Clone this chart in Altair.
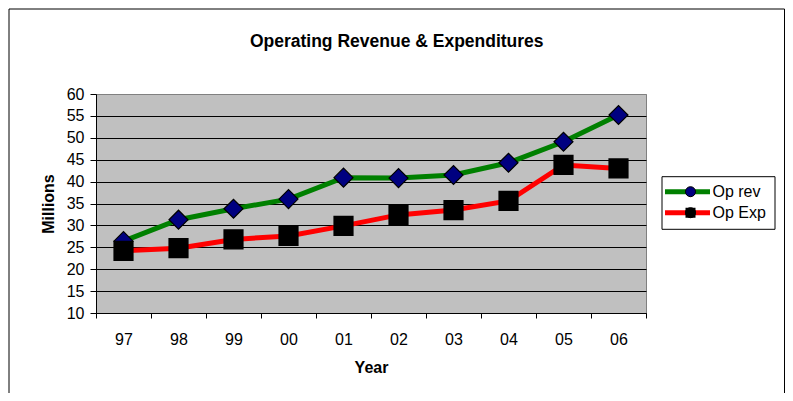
import altair as alt
import pandas as pd

years = ["97", "98", "99", "00", "01", "02", "03", "04", "05", "06"]
op_rev = [26.4, 31.3, 33.8, 36.0, 40.9, 40.8, 41.5, 44.3, 49.1, 55.2]
op_exp = [24.2, 24.8, 26.8, 27.6, 29.9, 32.4, 33.5, 35.6, 43.8, 43.0]
series_names = ["Op rev", "Op Exp"]
line_colors = ["#008000", "#FF0000"]
marker_fills = ["#000080", "#000000"]
marker_shapes = ["diamond", "square"]
y_ticks = [10, 15, 20, 25, 30, 35, 40, 45, 50, 55, 60]

rows = []
for name, vals in zip(series_names, [op_rev, op_exp]):
    for yr, v in zip(years, vals):
        rows.append({"Year": yr, "Value": v, "Series": name})
df = pd.DataFrame(rows)

FONT = "Liberation Sans"

x = alt.X(
    "Year:N",
    sort=years,
    scale=alt.Scale(type="band", paddingInner=0, paddingOuter=0),
    axis=alt.Axis(
        title="Year", labelAngle=0, tickBand="extent", tickSize=5, labelPadding=13,
        titlePadding=12, grid=False, domainColor="black", tickColor="black",
    ),
)
y = alt.Y(
    "Value:Q",
    scale=alt.Scale(domain=[10, 60], nice=False, zero=False),
    axis=alt.Axis(
        title="Millions", values=y_ticks, tickSize=6, labelPadding=6, titlePadding=10,
        grid=True,
        gridColor={"condition": {"test": "datum.value === 60", "value": "#808080"}, "value": "#000000"},
        domainColor="black", tickColor="black",
    ),
)

base = alt.Chart(df)

lines = base.mark_line(strokeWidth=5).encode(
    x=x,
    y=y,
    color=alt.Color(
        "Series:N",
        scale=alt.Scale(domain=series_names, range=line_colors),
        legend=alt.Legend(
            orient="none", legendX=566.5, legendY=89.7, title=None,
            symbolType="stroke", symbolSize=2025, symbolStrokeWidth=5,
            clipHeight=16, rowPadding=5, labelFontSize=16, labelOffset=0,
            labelColor="black", labelFont=FONT, padding=0, zindex=0,
        ),
    ),
)

pt_legend = alt.Legend(
    orient="none", legendX=586.5, legendY=89.7, title=None,
    symbolSize=100, symbolStrokeColor="black", symbolStrokeWidth=1,
    clipHeight=16, rowPadding=5, labelFontSize=16, labelExpr="''",
    labelFont=FONT, padding=0, zindex=1,
)

points = base.mark_point(filled=True, size=360, stroke="black", strokeWidth=1.2, opacity=1).encode(
    x=x,
    y=y,
    shape=alt.Shape("Series:N", sort=series_names, scale=alt.Scale(range=marker_shapes), legend=pt_legend),
    fill=alt.Fill("Series:N", sort=series_names, scale=alt.Scale(range=marker_fills), legend=pt_legend),
)


def vrule(xv, y1, y2):
    return alt.Chart(alt.Data(values=[{"k": 1}])).mark_rule(color="black", strokeWidth=1).encode(
        x=alt.value(xv), y=alt.value(y1), y2=alt.value(y2)
    )


def hrule(x1, x2, yv):
    return alt.Chart(alt.Data(values=[{"k": 1}])).mark_rule(color="black", strokeWidth=1).encode(
        x=alt.value(x1), x2=alt.value(x2), y=alt.value(yv)
    )


decor = [
    # outer chart border
    vrule(-87, -85, 400), hrule(-87, 688.5, -85), vrule(688.5, -85, 400),
    # legend box
    vrule(566, 82.7, 135.3), vrule(679, 82.7, 135.3), hrule(566, 679, 82.7), hrule(566, 679, 135.3),
]

chart = alt.layer(*decor, lines, points).properties(
    width=550,
    height=219,
    background="white",
    autosize=alt.AutoSizeParams(type="none"),
    padding={"left": 88, "top": 86, "right": 139, "bottom": 80},
    title=alt.Title(
        "Operating Revenue & Expenditures", fontSize=17.5, fontWeight="bold", font=FONT,
        anchor="middle", frame="bounds", baseline="alphabetic", offset=-55.5, color="black",
    ),
).configure_view(
    fill="#C0C0C0", stroke="#808080", strokeWidth=1
).configure_axis(
    labelFont=FONT, labelFontSize=16, labelColor="black",
    titleFont=FONT, titleFontSize=16, titleFontWeight="bold", titleColor="black",
)

chart.save("out.html", embed_options={"renderer": "svg", "actions": False})
